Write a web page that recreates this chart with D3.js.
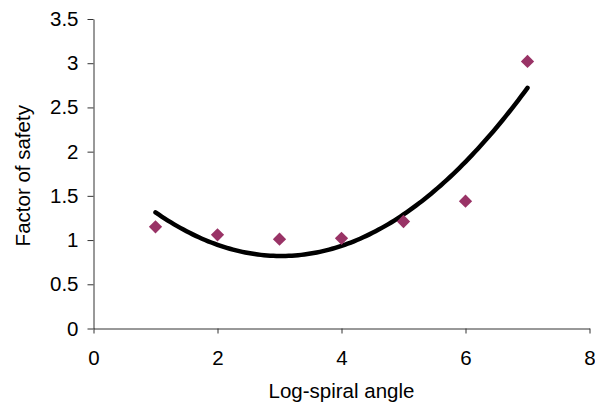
<!DOCTYPE html>
<html>
<head>
<meta charset="utf-8">
<script src="https://cdn.jsdelivr.net/npm/d3@7"></script>
<style>
  body { margin: 0; background: #fff; }
  svg { display: block; font-family: 'Liberation Sans', Arial, sans-serif; }
</style>
</head>
<body>
<div id="chart"></div>
<script>
const WIDTH  = 595;
const HEIGHT = 407;
const MARGIN = { top: 19, right: 5.5, bottom: 78.5, left: 93.5 };
const FONT   = 20.5;

// Data
const angles  = [1, 2, 3, 4, 5, 6, 7];
const safety  = [1.15, 1.06, 1.01, 1.02, 1.21, 1.44, 3.02];
const xTicks  = [0, 2, 4, 6, 8];
const yTicks  = [0, 0.5, 1, 1.5, 2, 2.5, 3, 3.5];

const COLORS = {
  point: '#993366',
  trend: '#000',
  axis:  '#333',
  text:  '#000'
};

var svg = d3.select('#chart').append('svg')
  .attr('width', WIDTH)
  .attr('height', HEIGHT);

var x = d3.scaleLinear()
  .domain([0, 8])
  .range([MARGIN.left, WIDTH - MARGIN.right]);
var y = d3.scaleLinear()
  .domain([0, 3.5])
  .range([HEIGHT - MARGIN.bottom, MARGIN.top]);

// Second order polynomial trendline (least squares, like the spreadsheet one)
function polyFit(xs, ys) {
  let n = xs.length;
  let mx = d3.mean(xs);
  let u = xs.map(v => v - mx);
  let su2 = d3.sum(u, v => v * v);
  let su4 = d3.sum(u, v => v ** 4);
  let sy = d3.sum(ys);
  let suy = d3.sum(u, (v, i) => v * ys[i]);
  let su2y = d3.sum(u, (v, i) => v * v * ys[i]);
  let b = suy / su2;
  let c = (su2y - su2 * sy / n) / (su4 - su2 * su2 / n);
  let a = (sy - c * su2) / n;
  return t => a + b * (t - mx) + c * (t - mx) * (t - mx);
}
let trend = polyFit(angles, safety);
let trendPts = d3.range(angles[0], angles[angles.length - 1] + 0.001, 0.05);

// Axes
let xAxis = svg.append('g')
  .attr('transform', `translate(0,${y(0)})`)
  .call(d3.axisBottom(x).tickValues(xTicks).tickSize(5).tickPadding(17).tickSizeOuter(0));
let yAxis = svg.append('g')
  .attr('transform', `translate(${x(0)},0)`)
  .call(d3.axisLeft(y).tickValues(yTicks).tickSize(6).tickPadding(9).tickSizeOuter(0)
    .tickFormat(d => String(d)));

for (let g of [xAxis, yAxis]) {
  g.select('.domain').attr('stroke', COLORS.axis).attr('stroke-width', 1);
  g.selectAll('.tick line').attr('stroke', COLORS.axis).attr('stroke-width', 1);
  g.selectAll('.tick text')
    .attr('fill', COLORS.text)
    .attr('font-family', "'Liberation Sans', Arial, sans-serif")
    .attr('font-size', FONT);
}

// Axis titles
svg.append('text')
  .attr('x', x(4))
  .attr('y', 398)
  .attr('text-anchor', 'middle')
  .attr('font-size', FONT)
  .attr('fill', COLORS.text)
  .text('Log-spiral angle');

svg.append('text')
  .attr('transform', `translate(30,${(y(0) + y(3.5)) / 2 + 2}) rotate(-90)`)
  .attr('text-anchor', 'middle')
  .attr('font-size', FONT)
  .attr('fill', COLORS.text)
  .text('Factor of safety');

// Trendline
svg.append('path')
  .datum(trendPts)
  .attr('fill', 'none')
  .attr('stroke', COLORS.trend)
  .attr('stroke-width', 4.5)
  .attr('stroke-linecap', 'round')
  .attr('d', d3.line().x(d => x(d)).y(d => y(trend(d))));

// Points
svg.selectAll('.point')
    .data(angles)
  .enter().append('path')
    .attr('class', 'point')
    .attr('transform', (d, i) => `translate(${x(d)},${y(safety[i])}) rotate(45)`)
    .attr('d', d3.symbol(d3.symbolSquare, 88))
    .attr('fill', COLORS.point);
</script>
</body>
</html>
